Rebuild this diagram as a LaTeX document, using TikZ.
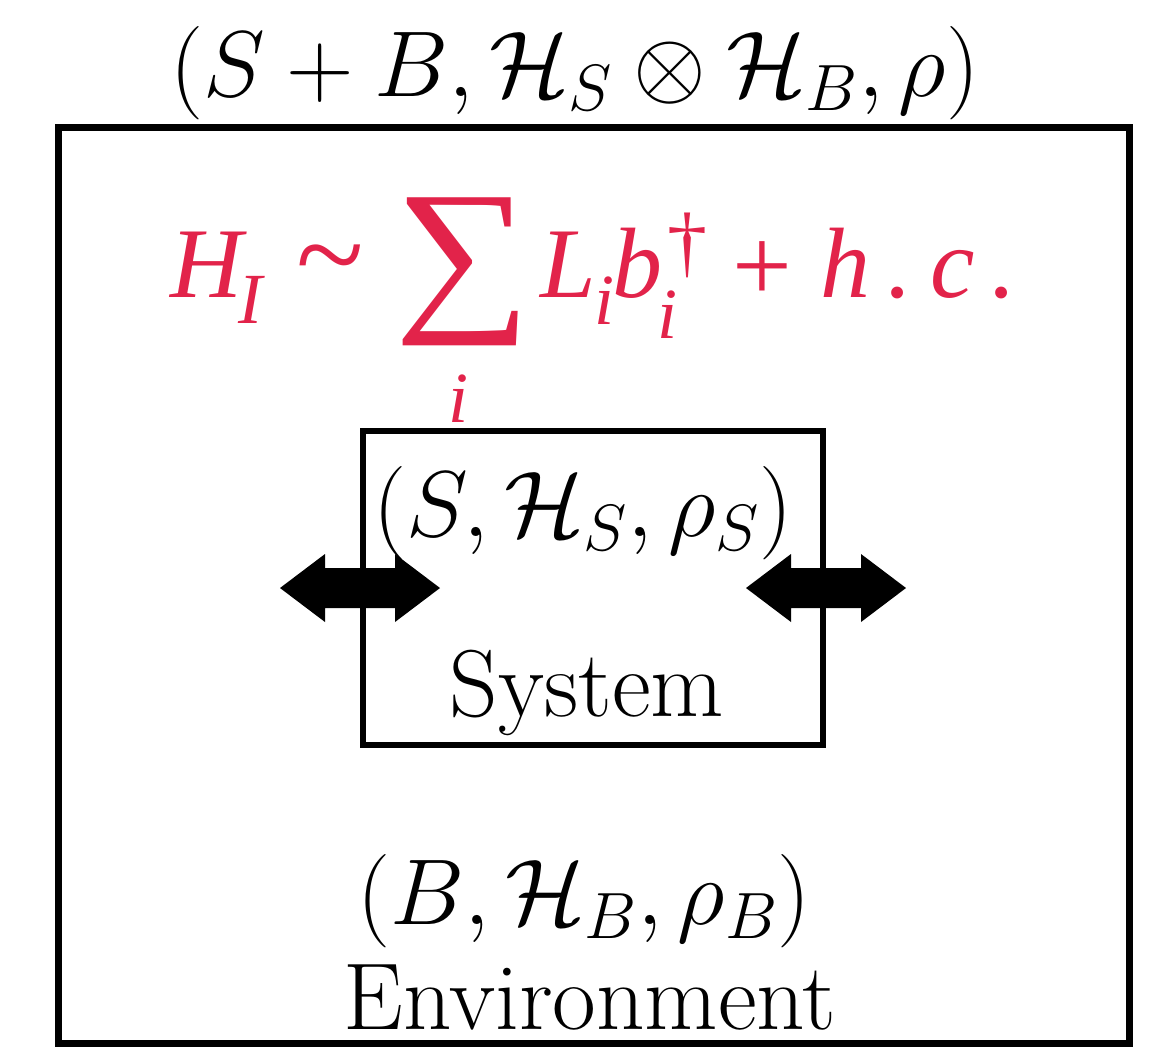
\RequirePackage{fix-cm}
\documentclass[tikz,border=0pt]{standalone}
\usepackage{fontspec}
\newfontface\redital{Liberation Serif Italic}
\newfontface\redroman{Liberation Serif}
\definecolor{redc}{RGB}{226,35,74}
\begin{document}
\begin{tikzpicture}[x=1pt,y=-1pt,
  boxline/.style={draw=black, line width=7pt, inner sep=0pt},
  bigmath/.style={font=\fontsize{93.5}{100}\selectfont, inner sep=0pt, anchor=base},
  bigtext/.style={font=\fontsize{95}{100}\selectfont, inner sep=0pt, anchor=base},
  redmain/.style={text=redc, font=\redital\fontsize{100}{110}\selectfont, inner sep=0pt, anchor=base west},
  redsub/.style={text=redc, font=\redital\fontsize{72}{80}\selectfont, inner sep=0pt, anchor=base west},
  redup/.style={text=redc, font=\redroman\fontsize{100}{110}\selectfont, inner sep=0pt},
  dblarrow/.pic={\fill[black] (-80,0) -- (-35,-34) -- (-35,-20) -- (35,-20) -- (35,-34) -- (80,0) -- (35,34) -- (35,20) -- (-35,20) -- (-35,34) -- cycle;}
]
\useasboundingbox (0,0) rectangle (1153,1047);
% boxes
\node[boxline, minimum width=1071pt, minimum height=916pt] (env) at (593.5,585) {};
\node[boxline, line width=6pt, minimum width=460pt, minimum height=314pt] (sys) at (593,588) {};
% labels
\node[bigmath] (total) at (575,96) {$(S+B,\mathcal{H}_S\otimes\mathcal{H}_B,\rho)$};
\node[bigmath] (sysmath) at (583,536) {$(S,\mathcal{H}_S,\rho_S)$};
\node[bigtext] (syslabel) at (587,716) {System};
\node[bigmath] (envmath) at (584,924) {$(B,\mathcal{H}_B,\rho_B)$};
\node[bigtext] (envlabel) at (590,1029) {Environment};
% arrows
\pic at (sys.west) {dblarrow};
\pic at (sys.east) {dblarrow};
% red interaction Hamiltonian
\node[redmain] (hH) at (170,297) {H};
\node[redsub] (hI) at (238,323) {I};
\node[redup, anchor=center, font=\redroman\fontsize{125}{130}\selectfont] (tilde) at (330,271) {\textasciitilde};
\node[text=redc, font=\redroman, inner sep=0pt, anchor=north west] (sum) at (394,198) {\resizebox*{137pt}{148pt}{∑}};
\node[redsub, anchor=base] (sumi) at (458,422) {i};
\node[redmain] (hL) at (540,297) {L};
\node[redsub] (Li) at (594,324) {i};
\node[redmain] (hb) at (612,297) {b};
\node[text=redc, font=\redroman\fontsize{80}{90}\selectfont, inner sep=0pt, anchor=north] (dag) at (687,213) {†};
\node[redsub] (bi) at (657,338) {i};
\node[redup, anchor=center, font=\redroman\fontsize{106}{110}\selectfont] (plus) at (762,272) {+};
\node[redmain] (hh) at (820,297) {h};
\node[redmain, anchor=base] (dot1) at (900,297) {.};
\node[redmain] (hc) at (930,297) {c};
\node[redmain, anchor=base] (dot2) at (1004,297) {.};
\end{tikzpicture}
\end{document}
